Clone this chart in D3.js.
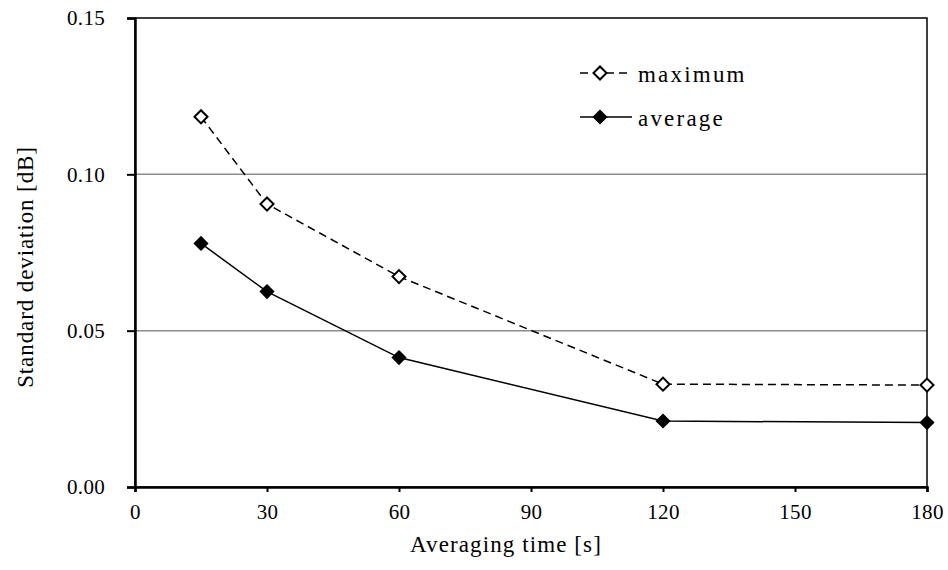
<!DOCTYPE html>
<html>
<head>
<meta charset="utf-8">
<script src="https://cdn.jsdelivr.net/npm/d3@7"></script>
<style>
body { margin: 0; background: #fff; }
</style>
</head>
<body>
<div id="chart"></div>
<script>
var times = [15, 30, 60, 120, 180];
var maximum = [0.1184, 0.0905, 0.0673, 0.0329, 0.0326];
var average = [0.0779, 0.0625, 0.0414, 0.0211, 0.0206];
var xTicks = [0, 30, 60, 90, 120, 150, 180];
var yTicks = [0, 0.05, 0.10, 0.15];

var serif = "'Liberation Serif', 'Times New Roman', serif";
var margin = {top: 18, right: 21, bottom: 83, left: 135};
var width = 948 - margin.left - margin.right;
var height = 570 - margin.top - margin.bottom;

var svg = d3.select("#chart").append("svg").attr("width", 948).attr("height", 570)
  .append("g").attr("transform", "translate(" + margin.left + "," + margin.top + ")");

var x = d3.scaleLinear().domain([0, 180]).range([0, width]);
var y = d3.scaleLinear().domain([0, 0.15]).range([height, 0]);

// gridlines
svg.selectAll(".grid").data([0.05, 0.10]).enter().append("line")
  .attr("x1", 0).attr("x2", width).attr("y1", d => y(d)).attr("y2", d => y(d))
  .attr("stroke", "#8c8c8c").attr("stroke-width", 1.5);

// plot frame
svg.append("rect").attr("width", width).attr("height", height)
  .attr("fill", "none").attr("stroke", "#000").attr("stroke-width", 1.5);

var xAxis = svg.append("g").attr("transform", "translate(0," + height + ")")
  .call(d3.axisBottom(x).tickValues(xTicks).tickSize(5).tickPadding(12).tickFormat(d3.format("d")));
var yAxis = svg.append("g")
  .call(d3.axisLeft(y).tickValues(yTicks).tickSize(8).tickPadding(22).tickFormat(d3.format(".2f")));
[xAxis, yAxis].forEach(function(a) {
  a.attr("font-family", null).attr("font-size", null);
  a.select(".domain").attr("stroke-width", 2.5);
  a.selectAll(".tick line").attr("stroke-width", 2);
  a.selectAll("text").style("font-family", serif).style("font-size", "21px")
    .style("letter-spacing", "0.3px").attr("fill", "#000");
});

svg.append("text").attr("text-anchor", "middle").attr("x", 371).attr("y", height + 65)
  .style("font-family", serif).style("font-size", "23px").style("letter-spacing", "1.1px")
  .text("Averaging time [s]");
svg.append("text").attr("text-anchor", "middle").attr("transform", "rotate(-90)")
  .attr("x", -249).attr("y", -102)
  .style("font-family", serif).style("font-size", "23px").style("letter-spacing", "0.9px")
  .text("Standard deviation [dB]");

var line = d3.line().x(d => x(d[0])).y(d => y(d[1]));
var maxData = times.map((t, i) => [t, maximum[i]]);
var avgData = times.map((t, i) => [t, average[i]]);
var diamond = d3.symbol().type(d3.symbolSquare).size(85);

svg.append("path").datum(maxData).attr("d", line).attr("fill", "none")
  .attr("stroke", "#000").attr("stroke-width", 1.5).attr("stroke-dasharray", "8,5");
svg.append("path").datum(avgData).attr("d", line).attr("fill", "none")
  .attr("stroke", "#000").attr("stroke-width", 1.5);

svg.selectAll(".mx").data(maxData).enter().append("path").attr("d", diamond)
  .attr("transform", d => "translate(" + x(d[0]) + "," + y(d[1]) + ") rotate(45)")
  .attr("fill", "#fff").attr("stroke", "#000").attr("stroke-width", 2);
svg.selectAll(".av").data(avgData).enter().append("path").attr("d", diamond)
  .attr("transform", d => "translate(" + x(d[0]) + "," + y(d[1]) + ") rotate(45)")
  .attr("fill", "#000").attr("stroke", "#000").attr("stroke-width", 1.5);

// legend
var legend = svg.append("g").attr("transform", "translate(445,0)");
[["maximum", "8,5", "#fff", 55], ["average", null, "#000", 99]].forEach(function(s) {
  legend.append("line").attr("x1", 0).attr("x2", 52).attr("y1", s[3]).attr("y2", s[3])
    .attr("stroke", "#000").attr("stroke-width", 1.5).attr("stroke-dasharray", s[1]);
  legend.append("path").attr("d", diamond)
    .attr("transform", "translate(20," + s[3] + ") rotate(45)")
    .attr("fill", s[2]).attr("stroke", "#000").attr("stroke-width", s[2] == "#fff" ? 2 : 1.5);
  legend.append("text").attr("x", 58).attr("y", s[3] + 9)
    .style("font-family", serif).style("font-size", "23px").style("letter-spacing", "2.2px")
    .text(s[0]);
});
</script>
</body>
</html>
